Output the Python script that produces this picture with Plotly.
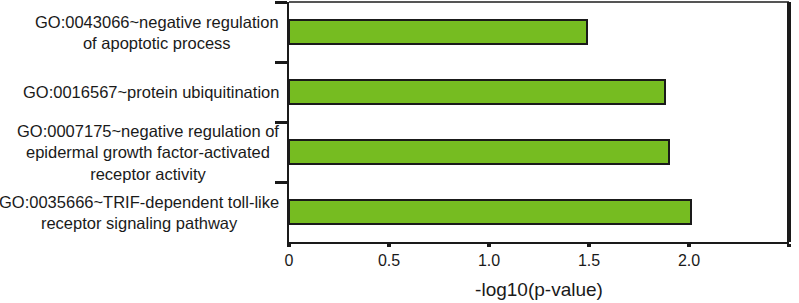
import plotly.graph_objects as go

categories = [
    "GO:0043066~negative regulation<br>of apoptotic process",
    "GO:0016567~protein ubiquitination",
    "GO:0007175~negative regulation of<br>epidermal growth factor-activated<br>receptor activity",
    "GO:0035666~TRIF-dependent toll-like<br>receptor signaling pathway",
]
values = [1.49, 1.88, 1.90, 2.01]
x_tickvals = [0, 0.5, 1.0, 1.5, 2.0, 2.5]
x_ticktext = ["0", "0.5", "1.0", "1.5", "2.0", ""]
x_title = "-log10(p-value)"

FONT = "Liberation Sans, Arial, sans-serif"

fig = go.Figure()
fig.add_trace(go.Bar(
    x=values, y=categories, orientation="h", width=0.4,
    marker=dict(color="#76bc21", line=dict(color="#1a1a1a", width=2)),
    showlegend=False,
))

for c in categories:
    fig.add_annotation(x=0, xref="paper", y=c, yref="y", text=c, showarrow=False,
                       xanchor="right", yanchor="middle", align="center", xshift=-8,
                       font=dict(family=FONT, size=16.5, color="#1a1a1a"))

fig.update_layout(
    width=799, height=303,
    margin=dict(l=289, r=10, t=2, b=61, autoexpand=False),
    plot_bgcolor="white", paper_bgcolor="white",
    font=dict(family=FONT, size=16, color="#1a1a1a"),
    xaxis=dict(range=[0, 2.5], tickvals=x_tickvals, ticktext=x_ticktext,
               showline=True, linecolor="#1a1a1a", linewidth=2,
               ticks="outside", ticklen=3, tickwidth=4, tickcolor="#1a1a1a",
               showgrid=False, zeroline=False, automargin=False,
               title=dict(text=x_title, font=dict(size=19), standoff=14),
               tickfont=dict(size=16)),
    yaxis=dict(autorange="reversed", showticklabels=False, tickson="boundaries",
               ticks="outside", ticklen=12, tickwidth=3, tickcolor="#1a1a1a",
               showline=True, linecolor="#1a1a1a", linewidth=2, showgrid=False,
               automargin=False),
)
# frame: grey top edge, heavy right edge
fig.add_shape(type="line", xref="paper", yref="paper", x0=0, x1=1, y0=1, y1=1,
              line=dict(color="#555555", width=2), layer="above")
fig.add_shape(type="line", xref="paper", yref="paper", x0=1, x1=1, y0=0, y1=1,
              line=dict(color="#1a1a1a", width=4), layer="above")
fig.write_html("out.html", config={"displayModeBar": False},
               post_script="document.body.style.margin='0px';document.body.style.overflow='hidden';")
